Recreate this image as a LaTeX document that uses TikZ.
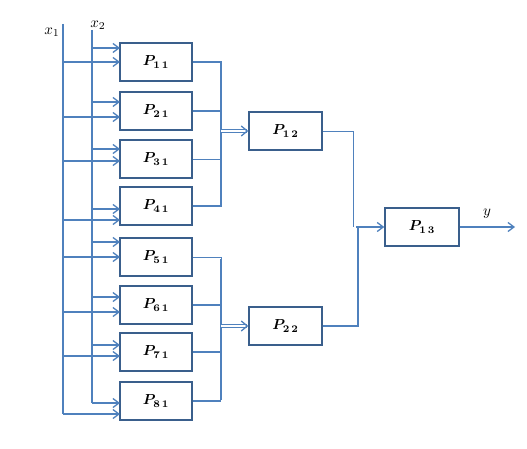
\documentclass[tikz,border=0pt]{standalone}
\usepackage{amsmath,bm,graphicx}
\usetikzlibrary{arrows.meta}
\definecolor{ln}{HTML}{4F81BD}
\definecolor{bx}{HTML}{3A5F8C}
\newcommand{\blab}[2]{\scalebox{1.45}{$\bm{P}_{\mathbf{#1\,#2}}$}}
\begin{document}
\begin{tikzpicture}[x=1pt,y=-1pt,
  blk/.style={draw=bx,line width=1.5pt,minimum width=72pt,minimum height=38pt,inner sep=0pt},
  wire/.style={draw=ln,line width=1.4pt},
  thin/.style={draw=ln,line width=0.8pt},
  arr/.style={draw=ln,line width=1.3pt,-{Straight Barb[length=6pt,width=9pt,line width=1.3pt]}},
  dbl/.style={draw=ln,double=white,double distance=1.8pt,line width=1.1pt,-{Straight Barb[length=6pt,width=10pt,line width=1.3pt]}},
  lab/.style={inner sep=0pt}]
\useasboundingbox (0,0) rectangle (527,449);
% input lines
\coordinate (x1t) at (63,24);
\coordinate (x1b) at (63,414);
\coordinate (x2t) at (92,30);
\coordinate (x2b) at (92,403);
\draw[wire] (x1t) -- (x1b);
\draw[wire] (x2t) -- (x2b);
\node[lab] (x1l) at (52,32) {\scalebox{1.5}{$x_{1}$}};
\node[lab] (x2l) at (98,25) {\scalebox{1.5}{$x_{2}$}};
% first layer boxes
\foreach \i/\t in {1/43,2/92,3/140,4/187,5/238,6/286,7/333,8/382}{
  \node[blk] (P\i1) at (156,\t+19) {\blab{\i}{1}};
}
% input arrows: x2 (upper) and x1 (lower)
\foreach \i/\u/\l in {1/48/62,2/102/117,3/149/161,4/209/220,5/242/257,6/297/312,7/345/356,8/403/414}{
  \coordinate (u\i) at (120,\u);
  \coordinate (l\i) at (120,\l);
  \draw[arr] (x2t |- u\i) -- (u\i);
  \draw[arr] (x1t |- l\i) -- (l\i);
}
% second layer
\node[blk,minimum width=73pt] (P12) at (285.5,131) {\blab{1}{2}};
\node[blk,minimum width=73pt] (P22) at (285.5,326) {\blab{2}{2}};
\node[blk,minimum width=74pt] (P13) at (422,227) {\blab{1}{3}};
% collectors
\coordinate (ca) at (221,65);
\coordinate (cb) at (221,259);
\draw[wire] (P11.east) -| (221,206) -- (P41.east);
\draw[wire] (P21.east) -- (P21.east -| ca);
\draw[thin] (P31.east) -- (P31.east -| ca);
\draw[thin] (P51.east) -| (221,400);
\draw[wire] (221,305) -- (P61.east);
\draw[wire] (P71.east) -- (P71.east -| cb);
\draw[wire] (P81.east) -- (P81.east -| cb);
\draw[wire] (221,259) -- (221,400);
\draw[dbl] (P12.west -| ca) -- (P12.west);
\draw[dbl] (P22.west -| cb) -- (P22.west);
% to third layer
\coordinate (j) at (356,227);
\draw[thin] (P12.east) -| (353,227);
\draw[wire] (P22.east) -| (358,227);
\draw[arr] (j) -- (P13.west);
\coordinate (yend) at (515,227);
\draw[arr] (P13.east) -- (yend);
\node[lab] (yl) at (487,214) {\scalebox{1.5}{$y$}};
\end{tikzpicture}
\end{document}
